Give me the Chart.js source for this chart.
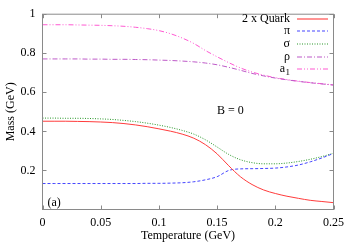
<!DOCTYPE html>
<html><head><meta charset="utf-8">
<script src="https://cdn.jsdelivr.net/npm/chart.js@4/dist/chart.umd.min.js"></script>
<style>html,body{margin:0;padding:0;background:#fff}#wrap{width:350px;height:245px}</style>
</head><body><div id="wrap"><canvas id="c" width="350" height="245"></canvas></div>
<script>
const temps = [0,0.01,0.02,0.03,0.04,0.05,0.06,0.07,0.08,0.09,0.10,0.11,0.12,0.13,0.14,0.15,0.16,0.17,0.18,0.19,0.20,0.21,0.22,0.23,0.24,0.25];
const quark = [0.452,0.452,0.452,0.451,0.450,0.448,0.445,0.440,0.433,0.424,0.413,0.401,0.386,0.365,0.332,0.285,0.224,0.168,0.128,0.100,0.082,0.068,0.057,0.047,0.041,0.035];
const pion  = [0.133,0.133,0.133,0.133,0.133,0.133,0.133,0.133,0.133,0.134,0.134,0.135,0.137,0.142,0.152,0.168,0.200,0.208,0.209,0.210,0.212,0.218,0.228,0.244,0.264,0.287];
const sigma = [0.468,0.468,0.467,0.467,0.466,0.464,0.461,0.456,0.450,0.442,0.432,0.420,0.405,0.386,0.357,0.320,0.282,0.255,0.240,0.234,0.234,0.238,0.246,0.257,0.271,0.288];
const rho   = [0.771,0.771,0.771,0.771,0.770,0.770,0.769,0.769,0.768,0.767,0.765,0.763,0.760,0.756,0.750,0.741,0.728,0.713,0.697,0.684,0.673,0.664,0.656,0.649,0.643,0.637];
const a1    = [0.946,0.946,0.946,0.945,0.944,0.943,0.941,0.938,0.933,0.926,0.916,0.900,0.878,0.850,0.814,0.782,0.752,0.725,0.704,0.688,0.675,0.665,0.657,0.650,0.644,0.638];
const seriesNames = ['2 x Quark','π','σ','ρ','a_1'];
const xTicks = [0,0.05,0.1,0.15,0.2,0.25];
const yTicks = [0.2,0.4,0.6,0.8,1];

const styles = [
  {c:'#ff3c3c', d:[]},
  {c:'#4646ff', d:[3,2]},
  {c:'#289628', d:[1,1.5]},
  {c:'#be5ac8', d:[5,2,1,2]},
  {c:'#ff5ad2', d:[5,2,1,2,1,2]}
];
const allSeries = [quark, pion, sigma, rho, a1];
const datasets = allSeries.map((arr,i)=>({
  label: seriesNames[i],
  data: temps.map((t,j)=>({x:t,y:arr[j]})),
  borderColor: styles[i].c,
  borderDash: styles[i].d.slice(),
  borderWidth: 1,
  pointRadius: 0,
  fill: false,
  cubicInterpolationMode: 'monotone'
}));

const FONT = "'Liberation Serif', 'Times New Roman', serif";

const framePlugin = {
  id:'frame',
  afterDraw(chart){
    const ctx = chart.ctx, a = chart.chartArea;
    const xs = chart.scales.x, ys = chart.scales.y;
    ctx.save();
    ctx.strokeStyle = '#8a8a8a';
    ctx.lineWidth = 1;
    ctx.setLineDash([]);
    ctx.strokeRect(a.left, a.top, a.right-a.left, a.bottom-a.top);
    ctx.beginPath();
    const tl = 4;
    xTicks.forEach(v=>{
      const px = Math.round(xs.getPixelForValue(v))+0.5;
      ctx.moveTo(px, a.bottom); ctx.lineTo(px, a.bottom-tl);
      ctx.moveTo(px, a.top); ctx.lineTo(px, a.top+tl);
    });
    yTicks.forEach(v=>{
      const py = Math.round(ys.getPixelForValue(v))+0.5;
      ctx.moveTo(a.left, py); ctx.lineTo(a.left+tl, py);
      ctx.moveTo(a.right, py); ctx.lineTo(a.right-tl, py);
    });
    ctx.stroke();
    ctx.restore();

    // legend
    const lx1 = 297, lx2 = 328, tx = 290;
    seriesNames.forEach((lab,i)=>{
      const y = 18.5 + i*12.7;
      ctx.save();
      ctx.fillStyle = '#000';
      ctx.textBaseline = 'middle';
      ctx.textAlign='right';
      if (lab.indexOf('_')>=0){
        const parts = lab.split('_');
        ctx.font = '9px ' + FONT;
        const sw = ctx.measureText(parts[1]).width;
        ctx.fillText(parts[1], tx, y+3);
        ctx.font = '12px ' + FONT;
        ctx.fillText(parts[0], tx - sw - 0.5, y);
      } else {
        ctx.font = '12px ' + FONT;
        ctx.fillText(lab, tx, y);
      }
      ctx.restore();
      ctx.save();
      ctx.strokeStyle = styles[i].c;
      ctx.setLineDash(styles[i].d);
      ctx.lineWidth = 1.1;
      ctx.beginPath();
      const yl = Math.round(y);
      ctx.moveTo(lx1, yl); ctx.lineTo(lx2, yl);
      ctx.stroke();
      ctx.restore();
    });
    ctx.save();
    ctx.textAlign='left';
    ctx.textBaseline = 'middle';
    ctx.font = '12px ' + FONT;
    ctx.fillStyle = '#000';
    ctx.fillText('B = 0', 217, 111);
    ctx.fillText('(a)', 47.5, 203);
    ctx.restore();
  }
};

new Chart(document.getElementById('c'), {
  type:'line',
  data:{datasets},
  options:{
    responsive:false,
    animation:false,
    events:[],
    layout:{padding:{top:11.5,right:14.5,left:0,bottom:0}},
    plugins:{legend:{display:false},tooltip:{enabled:false}},
    scales:{
      x:{
        type:'linear', min:0, max:0.25,
        grid:{display:false, drawTicks:false},
        border:{display:false},
        afterBuildTicks(s){ s.ticks = xTicks.map(v=>({value:v})); },
        afterFit(s){ s.height = 35.5; },
        ticks:{padding:6, color:'#000', font:{family:FONT,size:12}, maxRotation:0,
          callback:(v)=>String(parseFloat(Number(v).toFixed(2)))},
        title:{display:true, text:'Temperature (GeV)', color:'#000', font:{family:FONT,size:12}, padding:{top:0,bottom:1.8}}
      },
      y:{
        type:'linear', min:0, max:1,
        grid:{display:false, drawTicks:false},
        border:{display:false},
        afterBuildTicks(s){ s.ticks = yTicks.map(v=>({value:v})); },
        afterFit(s){ s.width = 42.5; },
        ticks:{padding:7, color:'#000', font:{family:FONT,size:12},
          callback:(v)=>String(parseFloat(Number(v).toFixed(1)))},
        title:{display:true, text:'Mass (GeV)', color:'#000', font:{family:FONT,size:12}, padding:{top:3.8,bottom:0}}
      }
    }
  },
  plugins:[framePlugin]
});
</script>
</body></html>
